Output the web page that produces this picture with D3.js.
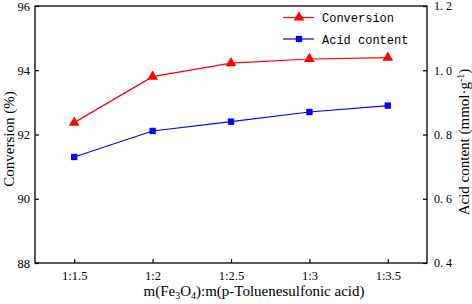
<!DOCTYPE html>
<html><head><meta charset="utf-8">
<script src="https://cdn.jsdelivr.net/npm/d3@7"></script>
<style>body{margin:0;background:#fff}svg{display:block}</style>
</head><body>
<svg id="c" width="472" height="304"></svg>
<script>
const categories = ["1:1.5","1:2","1:2.5","1:3","1:3.5"];
const conversion = [92.37, 93.80, 94.22, 94.35, 94.39];
const acidContent = [0.730, 0.811, 0.840, 0.870, 0.890];
const leftTicks = [88, 90, 92, 94, 96];
const rightTicks = [0.4, 0.6, 0.8, 1.0, 1.2];

const svg = d3.select("#c");
const L = 35, R = 427, T = 6, B = 263;
const x = d3.scalePoint().domain(categories).range([L, R]).padding(0.5);
const yL = d3.scaleLinear().domain([88, 96]).range([B, T]);
const yR = d3.scaleLinear().domain([0.4, 1.2]).range([B, T]);
const serif = "'Liberation Serif','Times New Roman',serif";
const mono = "'Liberation Mono','DejaVu Sans Mono',monospace";

// frame
svg.append("rect").attr("x", L).attr("y", T).attr("width", R - L).attr("height", B - T)
  .attr("fill", "none").attr("stroke", "#000").attr("stroke-width", 1.3);

// axes
const gx = svg.append("g").attr("transform", `translate(0,${B})`)
  .call(d3.axisBottom(x).tickSizeInner(-4).tickSizeOuter(0).tickPadding(8));
const gl = svg.append("g").attr("transform", `translate(${L},0)`)
  .call(d3.axisLeft(yL).tickValues(leftTicks).tickFormat(d3.format("d")).tickSizeInner(-4).tickSizeOuter(0).tickPadding(5));
const gr = svg.append("g").attr("transform", `translate(${R},0)`)
  .call(d3.axisRight(yR).tickValues(rightTicks).tickFormat(d => d3.format(".1f")(d).replace(".", ". ")).tickSizeInner(-4).tickSizeOuter(0).tickPadding(7));
[gx, gl, gr].forEach(g => {
  g.select(".domain").remove();
  g.selectAll(".tick line").attr("stroke", "#000").attr("stroke-width", 1.2);
});
gx.selectAll("text").attr("font-family", serif).attr("font-size", 12.5).attr("fill", "#000");
gl.selectAll("text").attr("font-family", serif).attr("font-size", 12.5).attr("fill", "#000");
gr.selectAll("text").attr("font-family", serif).attr("font-size", 12).attr("fill", "#000").style("white-space", "pre");

// axis titles
const xt = svg.append("text").attr("x", 254).attr("y", 296).attr("text-anchor", "middle")
  .attr("font-family", serif).attr("font-size", 15).attr("fill", "#000");
xt.append("tspan").text("m(Fe");
xt.append("tspan").attr("font-size", 10).attr("dy", 3).text("3");
xt.append("tspan").attr("dy", -3).text("O");
xt.append("tspan").attr("font-size", 10).attr("dy", 3).text("4");
xt.append("tspan").attr("dy", -3).text("):m(p-Toluenesulfonic acid)");

svg.append("text").attr("transform", `translate(14,139) rotate(-90)`)
  .attr("text-anchor", "middle").attr("font-family", serif).attr("font-size", 15).attr("fill", "#000")
  .text("Conversion (%)");
const rt = svg.append("text").attr("transform", `translate(469,142) rotate(-90)`)
  .attr("text-anchor", "middle").attr("font-family", serif).attr("font-size", 15).attr("fill", "#000");
rt.append("tspan").text("Acid content (mmol·g");
rt.append("tspan").attr("font-size", 10).attr("dy", -5).text("-1");
rt.append("tspan").attr("dy", 5).text(")");

// series
const red = "#ff0000", blue = "#0000ff";
const tri = d3.symbol().type(d3.symbolTriangle).size(50);
const sq = d3.symbol().type(d3.symbolSquare).size(40);

function series(vals, yScale, color, sym) {
  svg.append("path").datum(vals)
    .attr("d", d3.line().x((d, i) => x(categories[i])).y(d => yScale(d)))
    .attr("fill", "none").attr("stroke", color).attr("stroke-width", 1.2);
  svg.selectAll(null).data(vals).enter().append("path")
    .attr("d", sym).attr("fill", color)
    .attr("transform", (d, i) => `translate(${x(categories[i])},${yScale(d)})`);
}
series(conversion, yL, red, tri);
series(acidContent, yR, blue, sq);

// legend
const legend = [["Conversion", red, tri], ["Acid content", blue, sq]];
legend.forEach(([name, color, sym], i) => {
  const ly = 17.5 + i * 21.5;
  svg.append("line").attr("x1", 283).attr("x2", 314).attr("y1", ly).attr("y2", ly)
    .attr("stroke", color).attr("stroke-width", 1.2);
  svg.append("path").attr("d", sym).attr("fill", color).attr("transform", `translate(299,${ly})`);
  svg.append("text").attr("x", 322).attr("y", ly + 4.5).attr("font-family", mono).attr("font-size", 12)
    .attr("fill", "#000").text(name);
});
</script>
</body></html>
